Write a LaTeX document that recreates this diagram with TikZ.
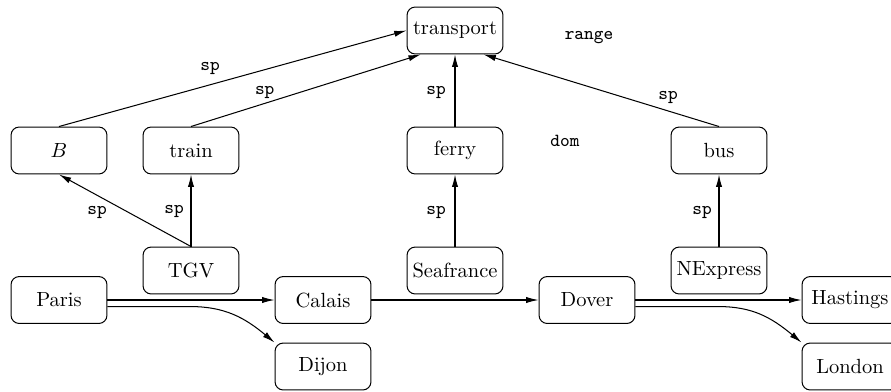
\documentclass[tikz,border=0pt]{standalone}
\usetikzlibrary{arrows.meta,calc}
\begin{document}
\begin{tikzpicture}[x=0.4878pt,y=-0.4878pt,
  box/.style={draw, rounded corners=4pt, minimum width=46.8pt, minimum height=22.9pt, inner sep=1pt, line width=0.5pt},
  arr/.style={-{Latex[length=6pt,width=3pt]}, line width=0.5pt},
  lab/.style={font=\small\ttfamily, inner sep=0pt}]
\useasboundingbox (0,0) rectangle (891,392);
% nodes
\node[box] (transport) at (455,30.5) {transport};
\node[box] (B) at (59,150.5) {$B$};
\node[box] (train) at (191,150.5) {train};
\node[box] (ferry) at (455,150.5) {ferry};
\node[box] (bus) at (719,150.5) {bus};
\node[box] (TGV) at (191,270.5) {TGV};
\node[box] (Seafrance) at (455,270.5) {Seafrance};
\node[box] (NExpress) at (719,270.5) {NExpress};
\node[box] (Paris) at (59,300) {Paris};
\node[box] (Calais) at (323,300) {Calais};
\node[box] (Dover) at (587,300) {Dover};
\node[box] (Hastings) at (850,300) {Hastings};
\node[box] (Dijon) at (323,366.5) {Dijon};
\node[box] (London) at (850,366.5) {London};
\node[lab] (range) at (589,38) {range};
\node[lab] (dom) at (565,141) {dom};
% sp edges
\draw[arr] (B.north) -- (transport.west) node[lab,pos=0.435,shift={(0,-16)}] {sp};
\draw[arr] (train.north) -- (transport.215) node[lab,pos=0.321,shift={(0,-11)}] {sp};
\draw[arr] (ferry.north) -- (transport.south) node[lab,pos=0.466,shift={(-19,0)}] {sp};
\draw[arr] (bus.north) -- (transport.-40) node[lab,pos=0.216,shift={(0,-13)}] {sp};
\draw[arr] (TGV.north) -- (B.south) node[lab,pos=0.5,shift={(-28,1.5)}] {sp};
\draw[arr] (TGV.north) -- (train.south) node[lab,pos=0.48,shift={(-17,0)}] {sp};
\draw[arr] (Seafrance.north) -- (ferry.south) node[lab,pos=0.466,shift={(-19,0)}] {sp};
\draw[arr] (NExpress.north) -- (bus.south) node[lab,pos=0.466,shift={(-17,0)}] {sp};
% routes
\draw[arr] (Paris.east) -- (Calais.west);
\draw[arr] ([yshift=-3.2pt]Paris.east) -- ++(83,0) .. controls +(34,0) and +(-30,-25) .. (Dijon.north west);
\draw[arr] (Calais.east) -- (Dover.west);
\draw[arr] (Dover.east) -- (Hastings.west);
\draw[arr] ([yshift=-3.2pt]Dover.east) -- ++(83,0) .. controls +(34,0) and +(-30,-25) .. (London.north west);
\end{tikzpicture}
\end{document}
